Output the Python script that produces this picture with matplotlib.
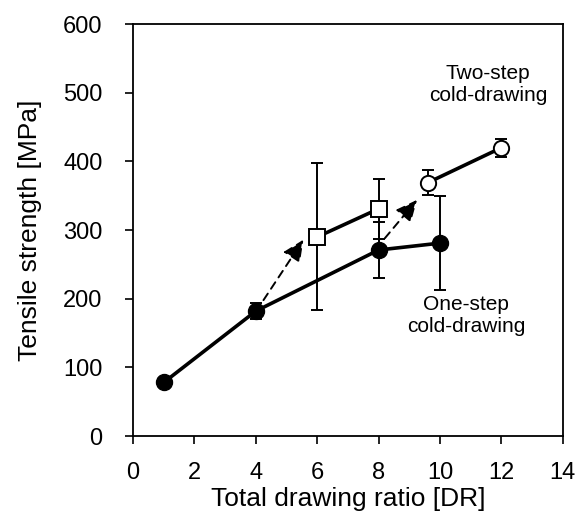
import matplotlib
matplotlib.use("Agg")
import matplotlib.pyplot as plt

plt.rcParams['font.family'] = ['Liberation Sans', 'DejaVu Sans']

# One-step cold-drawing
one_x = [1, 4, 8, 10]
one_y = [78, 182, 271, 281]
one_err = [0, 12, 41, 69]

# Two-step cold-drawing (squares)
sq_x = [6, 8]
sq_y = [290, 331]
sq_err = [107, 44]

# Two-step cold-drawing (open circles)
oc_x = [9.6, 12]
oc_y = [369, 420]
oc_err = [18, 13]

# dashed arrows (start, end)
arrows = [((4.25, 198), (5.55, 286)), ((8.2, 288), (9.25, 344))]

fig = plt.figure(figsize=(5.77, 5.13), dpi=100)
ax = fig.add_axes([0.2305, 0.150, 0.745, 0.803])

ekw = dict(ecolor='black', elinewidth=1.4, capsize=4.5, capthick=1.4)
ax.errorbar(one_x, one_y, yerr=one_err, fmt='none', zorder=2, **ekw)
ax.errorbar(sq_x, sq_y, yerr=sq_err, fmt='none', zorder=2, **ekw)
ax.errorbar(oc_x, oc_y, yerr=oc_err, fmt='none', zorder=2, **ekw)

ax.plot(one_x, one_y, '-o', color='black', lw=2.6, ms=11.5, mfc='black', zorder=3)
ax.plot(sq_x, sq_y, '-s', color='black', lw=2.6, ms=11, mfc='white', mew=1.4, zorder=3)
ax.plot(oc_x, oc_y, '-o', color='black', lw=2.6, ms=11, mfc='white', mew=1.4, zorder=3)

for (s, e) in arrows:
    ax.annotate('', xy=e, xytext=s,
                arrowprops=dict(arrowstyle='-|>,head_length=1.3,head_width=0.6',
                                linestyle=(0, (4, 3)), lw=1.4, color='black',
                                shrinkA=0, shrinkB=0), zorder=4)

ax.text(11.56, 512, 'Two-step\ncold-drawing', ha='center', va='center',
        fontsize=15, linespacing=1.2)
ax.text(10.85, 175, 'One-step\ncold-drawing', ha='center', va='center',
        fontsize=15, linespacing=1.2)

ax.set_xlim(0, 14)
ax.set_ylim(0, 600)
ax.set_xticks(range(0, 15, 2))
ax.set_yticks(range(0, 601, 100))
ax.tick_params(direction='out', length=6, width=1.2, labelsize=17)
ax.tick_params(axis='y', pad=16)
ax.tick_params(axis='x', pad=13)
for sp in ax.spines.values():
    sp.set_linewidth(1.3)
ax.set_xlabel('Total drawing ratio [DR]', fontsize=19, labelpad=2)
ax.set_ylabel('Tensile strength [MPa]', fontsize=19, labelpad=15)

fig.savefig('out.png', dpi=100)
